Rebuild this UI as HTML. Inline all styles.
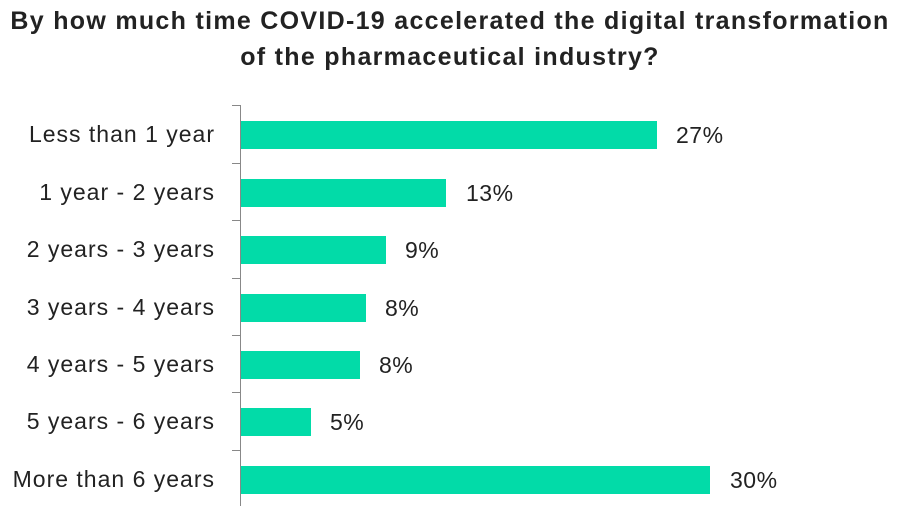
<!DOCTYPE html>
<html><head><meta charset="utf-8"><style>
body{margin:0;width:900px;height:506px;background:#fff;overflow:hidden;position:relative;font-family:"Liberation Sans",sans-serif;color:#222}
.t{position:absolute;left:0;width:900px;text-align:center;font-weight:bold;font-size:25px;letter-spacing:1.3px;line-height:36px;top:3px;white-space:nowrap}
.l{position:absolute;right:685px;font-size:23px;letter-spacing:1px;white-space:nowrap}
.b{position:absolute;left:241px;height:28px;background:#02dba8}
.v{position:absolute;font-size:23px;letter-spacing:0.5px}
.ax{position:absolute;left:240px;top:105px;width:1px;height:401px;background:#888}
.tk{position:absolute;left:232px;width:8px;height:1px;background:#888}
</style></head><body>
<div class="t">By how much time COVID-19 accelerated the digital transformation<br>of the pharmaceutical industry?</div>
<div class="ax"></div>
<div class="tk" style="top:105px"></div><div class="tk" style="top:163px"></div><div class="tk" style="top:220px"></div><div class="tk" style="top:278px"></div><div class="tk" style="top:335px"></div><div class="tk" style="top:392px"></div><div class="tk" style="top:450px"></div>

<div class="b" style="top:121px;width:416px"></div><div class="l" style="top:121px">Less than 1 year</div><div class="v" style="top:122px;left:676px">27%</div>
<div class="b" style="top:179px;width:205px"></div><div class="l" style="top:179px">1 year - 2 years</div><div class="v" style="top:180px;left:466px">13%</div>
<div class="b" style="top:236px;width:145px"></div><div class="l" style="top:236px">2 years - 3 years</div><div class="v" style="top:237px;left:405px">9%</div>
<div class="b" style="top:294px;width:125px"></div><div class="l" style="top:294px">3 years - 4 years</div><div class="v" style="top:295px;left:385px">8%</div>
<div class="b" style="top:351px;width:119px"></div><div class="l" style="top:351px">4 years - 5 years</div><div class="v" style="top:352px;left:379px">8%</div>
<div class="b" style="top:408px;width:70px"></div><div class="l" style="top:408px">5 years - 6 years</div><div class="v" style="top:409px;left:330px">5%</div>
<div class="b" style="top:466px;width:469px"></div><div class="l" style="top:466px">More than 6 years</div><div class="v" style="top:467px;left:730px">30%</div>
</body></html>
